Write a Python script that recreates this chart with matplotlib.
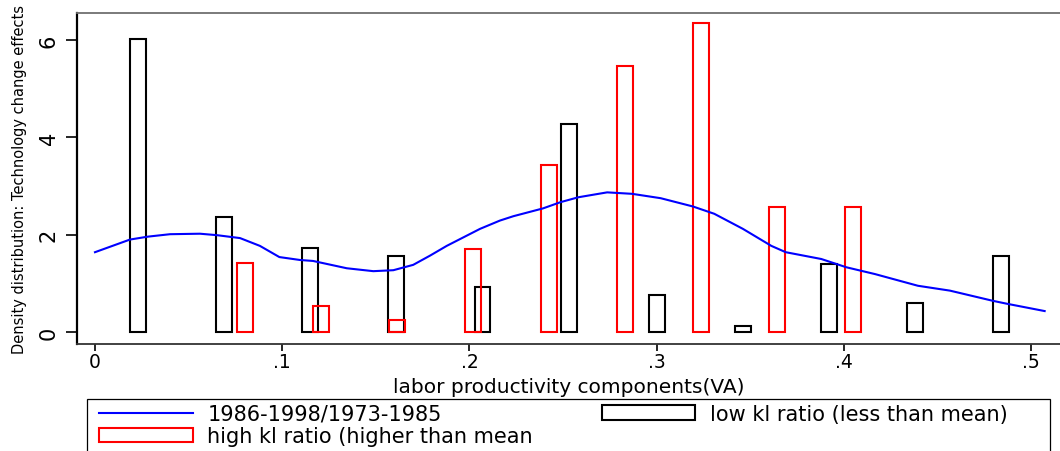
import matplotlib
matplotlib.use("Agg")
import matplotlib.pyplot as plt
from matplotlib.patches import Rectangle
from matplotlib.lines import Line2D

# ---- data ----
low_x = [0.023, 0.069, 0.115, 0.161, 0.207, 0.253, 0.300, 0.346, 0.392, 0.438, 0.484]
low_h = [6.03, 2.36, 1.72, 1.56, 0.92, 4.28, 0.76, 0.13, 1.40, 0.60, 1.56]

high_x = [0.0803, 0.1209, 0.1615, 0.2021, 0.2427, 0.2833, 0.3239, 0.3645, 0.4051]
high_h = [1.41, 0.54, 0.25, 1.70, 3.44, 5.47, 6.35, 2.57, 2.57]

kd_x = [0.000, 0.0187, 0.0283, 0.0401, 0.0561, 0.0652, 0.0775, 0.0881, 0.0985,
        0.1095, 0.1165, 0.1345, 0.1487, 0.1594, 0.1700, 0.1790, 0.1879, 0.2057,
        0.2163, 0.2235, 0.2393, 0.2488, 0.2583, 0.2736, 0.2869, 0.3022, 0.3194,
        0.3308, 0.3461, 0.3613, 0.3690, 0.3880, 0.4014, 0.4167, 0.4396, 0.4567,
        0.4797, 0.4872, 0.5073]
kd_y = [1.64, 1.90, 1.96, 2.01, 2.02, 1.99, 1.93, 1.77, 1.54,
        1.48, 1.46, 1.31, 1.25, 1.27, 1.38, 1.57, 1.77, 2.12,
        2.29, 2.38, 2.54, 2.67, 2.77, 2.87, 2.84, 2.75, 2.58,
        2.43, 2.12, 1.77, 1.64, 1.50, 1.33, 1.19, 0.95, 0.85,
        0.64, 0.58, 0.43]

x_ticks = [0, 0.1, 0.2, 0.3, 0.4, 0.5]
x_ticklabels = ["0", ".1", ".2", ".3", ".4", ".5"]
y_ticks = [0, 2, 4, 6]
y_ticklabels = ["0", "2", "4", "6"]

line_label = "1986-1998/1973-1985"
low_label = "low kl ratio (less than mean)"
high_label = "high kl ratio (higher than mean"
x_title = "labor productivity components(VA)"
y_title = "Density distribution: Technology change effects"

plt.rcParams['font.family'] = ['DejaVu Sans']

W, H = 1060, 452
fig = plt.figure(figsize=(W / 100, H / 100), dpi=100)
ax_left, ax_top, ax_bottom = 77, 14, 345
ax = fig.add_axes([ax_left / W, (H - ax_bottom) / H, (W - ax_left) / W,
                   (ax_bottom - ax_top) / H])
ax_w_px = W - ax_left
ax_h_px = ax_bottom - ax_top

bw = 0.0085
ax.bar(low_x, low_h, width=bw, facecolor='none', edgecolor='black',
       linewidth=1.5, label=low_label, zorder=2)
ax.bar(high_x, high_h, width=bw, facecolor='none', edgecolor='#ff0000',
       linewidth=1.5, label=high_label, zorder=3)
ax.plot(kd_x, kd_y, color='#0000ff', linewidth=1.5, label=line_label, zorder=4)

ax.set_xlim(-0.0096, 0.5155)
ax.set_ylim(-0.247, 6.557)

ax.set_xticks(x_ticks)
ax.set_xticklabels(x_ticklabels, fontsize=13.5)
ax.set_yticks(y_ticks)
ax.set_yticklabels(y_ticklabels, fontsize=15, rotation=90, va='center')

ax.tick_params(axis='x', length=5, width=1.2, pad=1, direction='out')
ax.tick_params(axis='y', length=8, width=1.2, pad=5, direction='out')

ax.spines['right'].set_visible(False)
ax.spines['top'].set_color('#707070')
ax.spines['top'].set_linewidth(1.3)
ax.spines['left'].set_color('black')
ax.spines['left'].set_linewidth(1.6)
ax.spines['bottom'].set_color('#333333')
ax.spines['bottom'].set_linewidth(1.3)

ax.set_xlabel(x_title, fontsize=14.5)
ax.xaxis.set_label_coords(0.5, (ax_bottom - 388) / ax_h_px)
ax.xaxis.label.set_va('center')
ax.set_ylabel(y_title, fontsize=10.5)
ax.yaxis.set_label_coords((20 - ax_left) / ax_w_px, 0.5)
ax.yaxis.label.set_va('center')

# legend box (its bottom runs past the picture as in the reference)
fig.add_artist(Rectangle((87 / W, -0.1), (1050 - 87) / W, 0.1 + (H - 400) / H,
                         transform=fig.transFigure, fill=False,
                         edgecolor='black', linewidth=0.9))

h_line = Line2D([], [], color='#0000ff', linewidth=1.5)
h_low = Rectangle((0, 0), 1, 1, facecolor='none', edgecolor='black', linewidth=1.5)
h_high = Rectangle((0, 0), 1, 1, facecolor='none', edgecolor='#ff0000', linewidth=1.5)

leg = fig.legend([h_line, h_high, h_low], [line_label, high_label, low_label],
                 loc='upper left', bbox_to_anchor=(99 / W, (H - 405) / H),
                 bbox_transform=fig.transFigure, ncol=2, fontsize=15,
                 frameon=False, borderaxespad=0, borderpad=0,
                 handlelength=4.5, handleheight=0.7, handletextpad=0.7,
                 columnspacing=3.3, labelspacing=0.1)

fig.savefig("out.png", dpi=100, facecolor='white')
